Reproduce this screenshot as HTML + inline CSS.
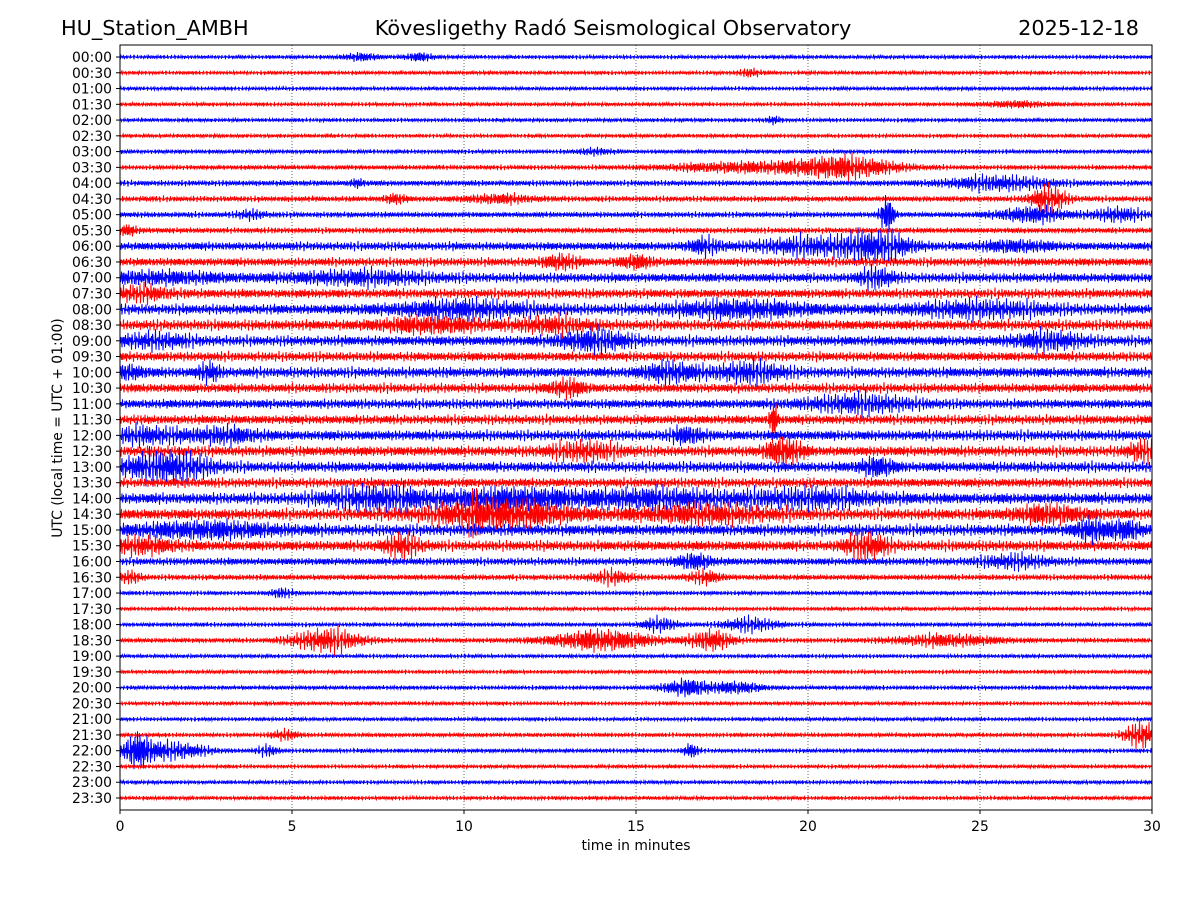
<!DOCTYPE html>
<html><head><meta charset="utf-8"><style>
body{margin:0;background:#fff;}
svg{display:block;font-family:"DejaVu Sans","Liberation Sans",sans-serif;}
</style></head><body>
<svg id="chart" width="1200" height="900" viewBox="0 0 1200 900">
<rect width="1200" height="900" fill="#fff"/>
<text x="61" y="35" font-size="20.8">HU_Station_AMBH</text>
<text x="613" y="35" font-size="20.8" text-anchor="middle">Kövesligethy Radó Seismological Observatory</text>
<text x="1139" y="35" font-size="20.8" text-anchor="end">2025-12-18</text>
<g id="grid"></g>
<g id="traces"></g>
<rect x="120" y="45" width="1032" height="765" fill="none" stroke="#000" stroke-width="1"/>
<g id="axes"></g>
<text x="636" y="850" font-size="13.9" text-anchor="middle">time in minutes</text>
<text transform="translate(62,428) rotate(-90)" font-size="13.9" text-anchor="middle">UTC (local time = UTC + 01:00)</text>
</svg>
<script>
const xTicks=[0,5,10,15,20,25,30];
const baseAmp=[2,2,2,2,2,2,2.2,2.5,3,3,3,3,4.5,4.5,5,5,5.5,5.5,5.5,5,5.5,5,5,5,5.5,5.5,5.5,5,6,6,6,5.5,4,3,2.2,2,2.2,2.5,2,2,2.2,2,2,2.2,2.2,2,2,2];
const burstTrace=[0,0,1,3,4,6,7,7,8,8,9,9,9,10,10,10,10,11,12,12,12,12,13,13,14,14,14,15,16,16,16,17,17,18,18,18,20,20,20,20,21,22,23,24,24,24,25,25,25,26,26,26,28,28,28,28,29,29,29,29,30,30,30,31,31,31,32,32,33,33,33,34,36,36,37,37,37,37,40,40,43,43,44,44,44,44];
const burstMin=[7,8.7,18.3,26,19,13.8,21,18,25.5,6.9,27,8,11,22.3,26.5,29,3.8,0.2,22,20,17,26,12.8,15,7,22,1,0.5,10,18,25,9,12.5,13.8,27,1,0.2,2.6,16,18.3,13,21.5,19,0.7,3,16.5,19.3,13.5,29.7,1.7,22,0.6,7.5,11.5,15.5,20,11,10.3,17,27,2.5,28.2,29.2,8.2,21.7,0.6,16.7,26,0.3,14.3,17,4.7,15.7,18.3,6,14,17.2,24,16.5,18,29.7,4.8,0.5,1.5,16.6,4.3];
const burstAmp=[4,4,4,3,4,3,12,5,7,4,14,5,4,18,8,7,4,5,14,8,7,5,7,6,6,9,5,6,8,8,7,7,7,10,8,6,6,9,9,9,8,8,25,7,7,7,14,8,9,12,9,7,11,9,8,8,14,10,8,8,7,11,9,11,13,7,8,6,6,6,6,5,7,7,12,11,11,6,9,6,14,5,18,9,8,5];
const burstWidth=[0.5,0.4,0.3,1,0.2,0.5,1.5,2,1.5,0.2,0.5,0.3,1,0.2,1,0.7,0.4,0.3,1,1.5,0.5,1,0.5,0.5,2,0.5,2,1,2,2,2,1.5,1,1,1,1,0.5,0.3,0.8,1,0.5,1.5,0.1,1,1,0.5,0.5,1,0.4,1,0.5,1,1.5,2,2,2,2,0.2,2,1,2,0.4,0.5,0.5,0.6,1,0.5,1,0.3,0.6,0.5,0.3,0.5,0.8,1,1.5,0.6,1.5,0.7,0.7,0.5,0.4,0.4,1,0.2,0.3];
const NS='http://www.w3.org/2000/svg';
const x0=120,x1=1152,y0=57,dy=(798-57)/47;
const xs=m=>x0+(x1-x0)*m/30;
const ys=i=>y0+i*dy;
const grid=document.getElementById('grid'),axes=document.getElementById('axes'),tr=document.getElementById('traces');
function mk(tag,attrs,parent){const e=document.createElementNS(NS,tag);for(const k in attrs)e.setAttribute(k,attrs[k]);parent.appendChild(e);return e;}
xTicks.forEach(t=>{
  if(t>0&&t<30){const g=mk('line',{x1:xs(t),x2:xs(t),y1:45,y2:810,stroke:'#000','stroke-width':0.6,'stroke-dasharray':'1,2'},grid);
  }
  const tk=mk('line',{x1:xs(t),x2:xs(t),y1:810,y2:814,stroke:'#000'},axes);
  
  const tx=mk('text',{x:xs(t),y:831,'font-size':13.9,'text-anchor':'middle'},axes);tx.textContent=t;
  
});
for(let i=0;i<48;i++){
  const y=ys(i);
  const lab=String(Math.floor(i/2)).padStart(2,'0')+':'+(i%2?'30':'00');
  const tk=mk('line',{x1:116,x2:120,y1:y,y2:y,stroke:'#000'},axes);
  
  const tx=mk('text',{x:112,y:y+5,'font-size':13.9,'text-anchor':'end'},axes);tx.textContent=lab;
  
  let d='';
  for(let px=0;px<=x1-x0;px+=0.5){
    const m=px/(x1-x0)*30;
    let a=baseAmp[i];
    for(let b=0;b<burstTrace.length;b++){if(burstTrace[b]!==i)continue;const z=(m-burstMin[b])/burstWidth[b];a+=burstAmp[b]*Math.exp(-z*z);}
    const k=px*2+i*37;
    const c=Math.sin(k*2.3)*0.55+Math.sin(k*1.37+1)*0.35+Math.sin(k*3.11+2)*0.3*Math.sin(k*0.05+i);
    d+=(px?'L':'M')+(x0+px).toFixed(1)+' '+(y+a*c).toFixed(1);
  }
  const p=mk('path',{d:d,fill:'none',stroke:i%2?'#ff0000':'#0000ff','stroke-width':1},tr);
  
  
}
</script>
</body></html>
